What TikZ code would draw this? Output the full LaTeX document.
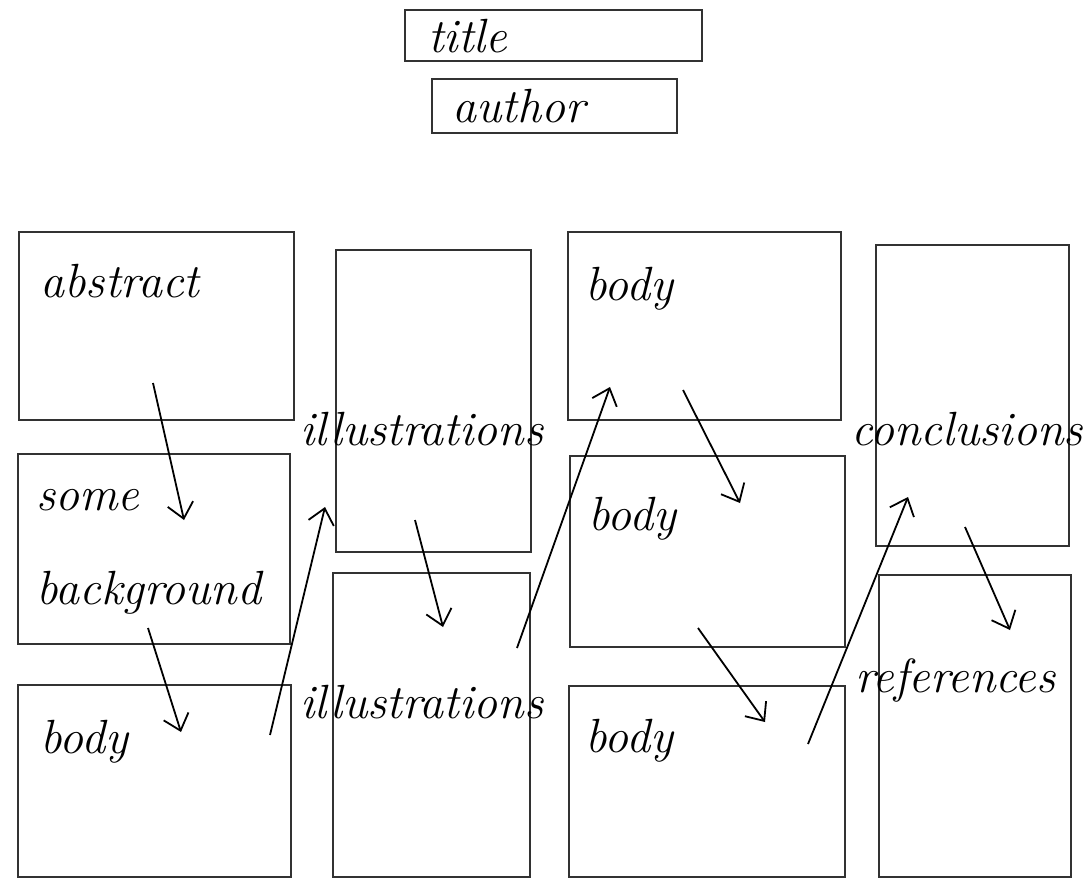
\documentclass[tikz,border=0pt]{standalone}
\usepackage{fontspec}
\usetikzlibrary{fit,arrows.meta}
\definecolor{BoxGray}{RGB}{50,50,50}

\begin{document}
\begin{tikzpicture}[x=1pt, y=-1pt, >={Straight Barb[length=15pt,width=26pt]},
    box/.style={draw=BoxGray, line width=2.9pt, inner sep=0pt},
    lbl/.style={anchor=base west, inner sep=0pt, font=\fontsize{48}{56}\selectfont\itshape},
    flow/.style={->, line width=1.8pt}]
  \useasboundingbox (0,0) rectangle (1084,878);
  % header
  \node[box, fit={(405,10) (702,61)}] (title) {};
  \node[box, fit={(432,79) (677,133)}] (author) {};
  \node[lbl] (titletxt) at (428,52) {title};
  \node[lbl] (authortxt) at (452,122) {author};
  % first column
  \node[box, fit={(19,232) (294,420)}] (abs) {};
  \node[box, fit={(18,454) (290,644)}] (bg) {};
  \node[box, fit={(18,685) (291,877)}] (bodyA) {};
  \node[lbl] (abstxt) at (40,297) {abstract};
  \node[lbl] (sometxt) at (36,510) {some};
  \node[lbl] (bgtxt) at (36,604) {background};
  \node[lbl] (bodyAtxt) at (40,753) {body};
  % second column
  \node[box, fit={(336,250) (531,552)}] (illA) {};
  \node[box, fit={(333,573) (530,877)}] (illB) {};
  \node[lbl] (illAtxt) at (300,445) {illustrations};
  \node[lbl] (illBtxt) at (300,718) {illustrations};
  % third column
  \node[box, fit={(568,232) (841,420)}] (bodyB) {};
  \node[box, fit={(570,456) (845,647)}] (bodyC) {};
  \node[box, fit={(569,686) (845,877)}] (bodyD) {};
  \node[lbl] (bodyBtxt) at (585,300) {body};
  \node[lbl] (bodyCtxt) at (588,530) {body};
  \node[lbl] (bodyDtxt) at (585,752) {body};
  % fourth column
  \node[box, fit={(876,245) (1069,546)}] (concl) {};
  \node[box, fit={(879,575) (1071,877)}] (refs) {};
  \node[lbl] (concltxt) at (851,445) {conclusions};
  \node[lbl] (refstxt) at (855,692) {references};
  % reading order
  \coordinate (p1) at (153,383);  \coordinate (q1) at (184,520);
  \coordinate (p2) at (148,628);  \coordinate (q2) at (181,732);
  \coordinate (p3) at (270,735);  \coordinate (q3) at (325,507);
  \coordinate (p4) at (415,520);  \coordinate (q4) at (443,627);
  \coordinate (p5) at (517,648);  \coordinate (q5) at (610,387);
  \coordinate (p6) at (683,390);  \coordinate (q6) at (740,503);
  \coordinate (p7) at (698,628);  \coordinate (q7) at (765,722);
  \coordinate (p8) at (808,744);  \coordinate (q8) at (908,497);
  \coordinate (p9) at (965,527);  \coordinate (q9) at (1010,630);
  \draw[flow] (p1) -- (q1);
  \draw[flow] (p2) -- (q2);
  \draw[flow] (p3) -- (q3);
  \draw[flow] (p4) -- (q4);
  \draw[flow] (p5) -- (q5);
  \draw[flow] (p6) -- (q6);
  \draw[flow] (p7) -- (q7);
  \draw[flow] (p8) -- (q8);
  \draw[flow] (p9) -- (q9);
\end{tikzpicture}
\end{document}
